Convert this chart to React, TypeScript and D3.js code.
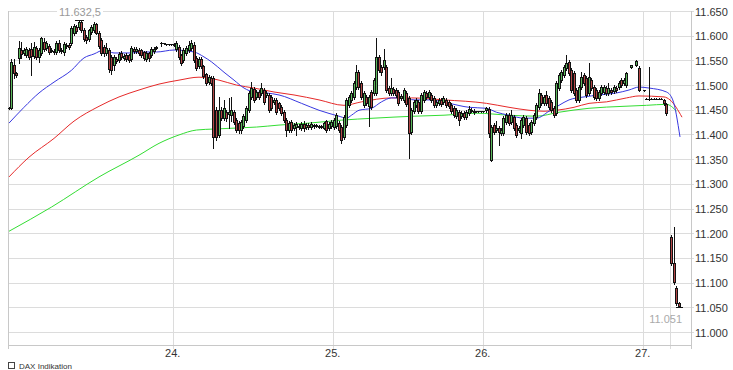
import * as d3 from "d3";

// open, high, low, close (null = no trade in that slot)
type Candle = [number, number, number, number] | null;

const day23: Candle[] = [
  [11453, 11455, 11451, 11453], [11453, 11553, 11451, 11547], [11541, 11553, 11514, 11524], [11524, 11526, 11516, 11520],
  [11555, 11589, 11545, 11575], [11571, 11587, 11555, 11563], [11565, 11575, 11561, 11571], [11561, 11577, 11557, 11573],
  [11571, 11575, 11553, 11557], [11573, 11585, 11520, 11559], [11559, 11587, 11555, 11577], [11575, 11579, 11553, 11557],
  [11557, 11575, 11547, 11571], [11565, 11597, 11561, 11595], [11587, 11595, 11569, 11573], [11575, 11589, 11571, 11585],
  [11579, 11583, 11563, 11567], [11571, 11575, 11567, 11569], [11569, 11573, 11563, 11567], [11567, 11589, 11563, 11585],
  [11585, 11591, 11567, 11571], [11571, 11575, 11565, 11569], [11567, 11587, 11561, 11583], [11579, 11585, 11575, 11581],
  [11581, 11585, 11573, 11577], [11585, 11620, 11581, 11616], [11606, 11624, 11601, 11620], [11618, 11622, 11606, 11610],
  [11618, 11632.5, 11614, 11628], [11628, 11632, 11608, 11612], [11612, 11616, 11589, 11593], [11597, 11601, 11585, 11591],
  [11593, 11614, 11589, 11612], [11608, 11622, 11604, 11618], [11612, 11628, 11608, 11624], [11624, 11626, 11604, 11606],
  [11606, 11610, 11575, 11579], [11591, 11595, 11561, 11565], [11577, 11581, 11559, 11565], [11565, 11585, 11561, 11575],
  [11571, 11575, 11526, 11532], [11557, 11561, 11522, 11530], [11541, 11561, 11530, 11557], [11553, 11557, 11545, 11549],
  [11551, 11567, 11547, 11563], [11565, 11569, 11553, 11557], [11555, 11563, 11551, 11559], [11561, 11565, 11549, 11553],
  [11561, 11563, 11547, 11551], [11553, 11579, 11549, 11575], [11573, 11577, 11565, 11569], [11569, 11577, 11565, 11573],
  [11571, 11575, 11561, 11565], [11571, 11573, 11557, 11561], [11567, 11569, 11551, 11555], [11553, 11569, 11549, 11565],
  [11565, 11567, 11549, 11555], [11561, 11577, 11557, 11573], [11569, 11577, 11565, 11573], [11575, 11579, 11573, 11577],
  null, [11585, 11588, 11579, 11585], [11585, 11586, 11584, 11585], [11583, 11584, 11582, 11583],
  [11583, 11584, 11582, 11583], [11583, 11584, 11582, 11583],
];

const day24: Candle[] = [
  [11581, 11585, 11579, 11583], [11573, 11589, 11569, 11585], [11577, 11581, 11553, 11557], [11561, 11563, 11541, 11545],
  [11551, 11575, 11547, 11571], [11565, 11579, 11561, 11575], [11571, 11589, 11567, 11581], [11575, 11591, 11571, 11585],
  [11581, 11587, 11547, 11551], [11555, 11559, 11530, 11534], [11538, 11557, 11534, 11553], [11553, 11557, 11534, 11538],
  [11538, 11541, 11514, 11518], [11522, 11524, 11500, 11504], [11506, 11520, 11502, 11516], [11514, 11518, 11500, 11504],
  [11514, 11518, 11373, 11395], [11449, 11455, 11389, 11395], [11399, 11475, 11395, 11449], [11449, 11455, 11429, 11433],
  [11433, 11470, 11429, 11453], [11445, 11449, 11427, 11433], [11441, 11473, 11413, 11445], [11439, 11475, 11427, 11449],
  [11445, 11449, 11421, 11425], [11429, 11433, 11405, 11409], [11423, 11427, 11403, 11409], [11409, 11429, 11403, 11425],
  [11417, 11441, 11413, 11437], [11429, 11457, 11425, 11453], [11449, 11488, 11445, 11484], [11476, 11506, 11472, 11494],
  [11492, 11496, 11466, 11470], [11476, 11490, 11472, 11486], [11486, 11490, 11472, 11476], [11484, 11504, 11480, 11494],
  [11490, 11494, 11461, 11466], [11480, 11488, 11476, 11484], [11480, 11484, 11445, 11449], [11476, 11480, 11449, 11453],
  [11466, 11474, 11461, 11470], [11470, 11474, 11441, 11445], [11463, 11466, 11449, 11453], [11455, 11459, 11439, 11443],
  [11445, 11449, 11425, 11429], [11429, 11433, 11397, 11409], [11409, 11427, 11405, 11423], [11425, 11429, 11405, 11409],
  [11413, 11423, 11409, 11419], [11415, 11425, 11399, 11421], [11417, 11421, 11411, 11415], [11413, 11425, 11409, 11421],
  [11421, 11427, 11407, 11413], [11415, 11423, 11411, 11419], [11419, 11423, 11411, 11415], [11415, 11425, 11411, 11421],
  [11419, 11421, 11413, 11417], [11417, 11421, 11415, 11419], [11417, 11419, 11413, 11415], [11415, 11419, 11413, 11417],
  [11413, 11425, 11411, 11423], [11427, 11429, 11405, 11409], [11413, 11425, 11409, 11421], [11417, 11429, 11413, 11425],
];

const day25: Candle[] = [
  [11415, 11433, 11411, 11429], [11417, 11443, 11413, 11439], [11423, 11427, 11405, 11409], [11415, 11419, 11383, 11389],
  [11395, 11439, 11391, 11435], [11419, 11474, 11415, 11470], [11459, 11480, 11455, 11476], [11470, 11488, 11466, 11484],
  [11476, 11508, 11472, 11504], [11496, 11541, 11492, 11526], [11526, 11530, 11492, 11496], [11504, 11508, 11472, 11476],
  [11459, 11488, 11455, 11484], [11476, 11480, 11459, 11463], [11457, 11480, 11417, 11476], [11486, 11490, 11451, 11455],
  [11484, 11514, 11480, 11510], [11484, 11595, 11480, 11557], [11557, 11561, 11526, 11530], [11536, 11540, 11520, 11526],
  [11536, 11573, 11532, 11551], [11536, 11541, 11486, 11490], [11494, 11498, 11480, 11484], [11484, 11514, 11480, 11494],
  [11492, 11496, 11480, 11484], [11490, 11494, 11476, 11480], [11486, 11490, 11459, 11463], [11474, 11482, 11470, 11478],
  [11470, 11494, 11466, 11490], [11484, 11488, 11457, 11461], [11474, 11478, 11353, 11403], [11405, 11453, 11401, 11449],
  [11447, 11470, 11443, 11466], [11459, 11474, 11455, 11470], [11466, 11470, 11443, 11447], [11447, 11484, 11443, 11480],
  [11470, 11490, 11466, 11486], [11484, 11488, 11472, 11476], [11476, 11490, 11472, 11486], [11480, 11484, 11466, 11470],
  [11474, 11478, 11455, 11459], [11459, 11470, 11455, 11466], [11463, 11474, 11459, 11470], [11470, 11474, 11457, 11461],
  [11466, 11478, 11461, 11474], [11470, 11474, 11455, 11459], [11466, 11470, 11453, 11457], [11459, 11463, 11443, 11447],
  [11453, 11457, 11435, 11439], [11437, 11453, 11433, 11449], [11445, 11449, 11419, 11429], [11437, 11447, 11433, 11443],
  [11443, 11447, 11431, 11435], [11435, 11449, 11431, 11445], [11443, 11457, 11439, 11451], [11449, 11453, 11445, 11447],
  [11445, 11451, 11441, 11447], [11447, 11448, 11446, 11447], [11447, 11448, 11446, 11447], [11447, 11448, 11446, 11447],
];

const day26: Candle[] = [
  [11447, 11448, 11446, 11447], [11449, 11455, 11445, 11453], [11451, 11455, 11395, 11403], [11348, 11419, 11346, 11415],
  [11419, 11423, 11401, 11405], [11409, 11427, 11405, 11413], [11413, 11417, 11378, 11405], [11403, 11413, 11399, 11409],
  [11403, 11437, 11399, 11433], [11425, 11443, 11421, 11439], [11439, 11443, 11419, 11423], [11425, 11449, 11421, 11439],
  [11435, 11439, 11409, 11413], [11419, 11423, 11395, 11399], [11409, 11417, 11405, 11413], [11403, 11433, 11393, 11429],
  [11419, 11439, 11415, 11435], [11433, 11437, 11401, 11405], [11419, 11423, 11399, 11403], [11405, 11429, 11401, 11425],
  [11423, 11443, 11419, 11439], [11435, 11463, 11431, 11459], [11455, 11492, 11451, 11484], [11480, 11484, 11459, 11463],
  [11463, 11480, 11459, 11476], [11480, 11488, 11459, 11463], [11474, 11478, 11451, 11455], [11466, 11470, 11445, 11449],
  [11453, 11457, 11435, 11439], [11443, 11508, 11439, 11504], [11494, 11524, 11490, 11520], [11510, 11530, 11506, 11526],
  [11520, 11541, 11516, 11536], [11534, 11561, 11530, 11545], [11547, 11551, 11520, 11524], [11530, 11534, 11486, 11490],
  [11524, 11528, 11480, 11484], [11490, 11494, 11466, 11470], [11470, 11500, 11466, 11496], [11496, 11526, 11492, 11516],
  [11520, 11524, 11500, 11504], [11514, 11518, 11476, 11480], [11484, 11544, 11480, 11516], [11510, 11514, 11490, 11494],
  [11496, 11500, 11472, 11476], [11490, 11494, 11470, 11474], [11474, 11490, 11470, 11486], [11484, 11500, 11480, 11496],
  [11486, 11500, 11482, 11496], [11494, 11498, 11480, 11484], [11484, 11504, 11480, 11494], [11490, 11494, 11482, 11486],
  [11488, 11500, 11484, 11496], [11494, 11498, 11486, 11490], [11496, 11508, 11492, 11504], [11510, 11514, 11496, 11500],
  [11504, 11514, 11500, 11510], [11500, 11526, 11496, 11524], null, [11536, 11541, 11534, 11540],
  null, [11541, 11551, 11539, 11549], [11534, 11538, 11488, 11490], null,
];

const day27: Candle[] = [
  [11490, 11491, 11489, 11490], [11472, 11473, 11471, 11472], [11472, 11536, 11470, 11472], [11472, 11473, 11471, 11472],
  [11472, 11473, 11471, 11472], [11472, 11473, 11471, 11472], [11472, 11473, 11471, 11472], [11472, 11473, 11471, 11472],
  [11470, 11472, 11459, 11463], [11461, 11463, 11439, 11443], null, [11192, 11196, 11136, 11139],
  [11139, 11212, 11097, 11101], [11090, 11093, 11055, 11058], [11058, 11060, 11051, 11053],
];

const dayLabels = ["23.", "24.", "25.", "26.", "27."];
const dayStarts = [0, 66, 130, 190, 254];
const extraGridSlots = [264.5];
const priceTicks = d3.range(11000, 11651, 50);

// moving averages: [slot, value]
const maShort: [number, number][] = [
  [0, 11423], [6, 11455], [12, 11484], [18, 11506], [25, 11530], [30, 11555], [34, 11563], [38, 11571],
  [42, 11565], [49, 11565], [54, 11567], [59, 11567], [66, 11571], [74, 11567], [78, 11557], [81, 11547],
  [86, 11526], [90, 11510], [94, 11494], [98, 11486], [103, 11484], [108, 11480], [117, 11463], [124, 11449],
  [132, 11437], [135, 11433], [137, 11439], [140, 11449], [145, 11453], [149, 11466], [153, 11474], [158, 11474],
  [162, 11470], [168, 11470], [176, 11463], [184, 11455], [191, 11453], [195, 11445], [200, 11439], [206, 11433],
  [211, 11433], [216, 11447], [220, 11459], [224, 11470], [230, 11476], [236, 11480], [243, 11484], [248, 11490],
  [252, 11496], [256, 11494], [263, 11486], [265.5, 11470], [268.4, 11395],
];
const maMid: [number, number][] = [
  [0, 11314], [8, 11354], [18, 11392], [26, 11427], [36, 11457], [44, 11476], [52, 11490], [60, 11502],
  [68, 11510], [76, 11516], [84, 11510], [91, 11500], [98, 11494], [106, 11486], [114, 11480], [124, 11470],
  [134, 11459], [141, 11466], [153, 11474], [161, 11474], [174, 11470], [191, 11463], [200, 11455], [208, 11449],
  [214, 11447], [219, 11449], [226, 11455], [232, 11463], [239, 11466], [247, 11474], [252, 11478], [262, 11476],
  [264.4, 11470], [269.2, 11435],
];
const maLong: [number, number][] = [
  [0, 11204], [17, 11253], [36, 11314], [52, 11358], [60, 11382], [68, 11399], [75, 11409], [82, 11411],
  [91, 11413], [99, 11415], [108, 11419], [120, 11423], [133, 11429], [146, 11433], [162, 11437], [174, 11439],
  [187, 11443], [200, 11439], [211, 11437], [220, 11445], [232, 11453], [246, 11457], [255, 11459], [263, 11461],
  [267, 11447],
];

const legendText = "DAX Indikation";

const de = d3.formatLocale({ decimal: ",", thousands: ".", grouping: [3], currency: ["", " €"] });
const fmtTick = de.format(",.0f");
const fmtHigh = de.format(",.1f");

export default function App() {
  const width = 733;
  const height = 370;
  const left = 8;
  const right = 691;
  const top = 11;
  const bottom = 345;

  const x = d3.scaleLinear().domain([0, 272]).range([9, 689]);
  const y = d3.scaleLinear().domain([11000, 11650]).range([332, 11]);

  const days = [day23, day24, day25, day26, day27];
  const candles: { slot: number; o: number; h: number; l: number; c: number }[] = [];
  days.forEach((arr, di) => {
    arr.forEach((d, i) => {
      if (d) candles.push({ slot: dayStarts[di] + i, o: d[0], h: d[1], l: d[2], c: d[3] });
    });
  });

  const hi = candles.reduce((a, b) => (b.h > a.h ? b : a));
  const lo = candles.reduce((a, b) => (b.l < a.l ? b : a));

  const line = d3
    .line<[number, number]>()
    .x((d) => x(d[0]))
    .y((d) => y(d[1]))
    .curve(d3.curveMonotoneX);

  const px = (v: number) => Math.round(v) + 0.5;
  const gridColor = "#dcdcdc";
  const font = "'Liberation Sans', Arial, sans-serif";

  const vGrid = [...dayStarts.slice(1).map((s) => s - 0.5), ...extraGridSlots];

  const hiX = Math.floor(x(hi.slot));
  const loX = Math.floor(x(lo.slot));

  return (
    <div style={{ position: "fixed", left: 0, top: 0 }}>
      <svg width={width} height={height} style={{ display: "block", fontFamily: font }}>
        <rect width={width} height={height} fill="#fff" />

        {/* grid */}
        <g shapeRendering="crispEdges">
          {priceTicks.map((t) => (
            <line key={t} x1={left} x2={right + 3} y1={px(y(t))} y2={px(y(t))} stroke={gridColor} />
          ))}
          {vGrid.map((s) => (
            <line key={s} x1={px(x(s))} x2={px(x(s))} y1={top} y2={bottom + 4} stroke={gridColor} />
          ))}
          <line x1={left + 0.5} x2={left + 0.5} y1={top} y2={bottom + 4} stroke="#c8c8c8" />
          <line x1={right + 0.5} x2={right + 0.5} y1={top} y2={bottom + 4} stroke="#c8c8c8" />
          <line x1={left} x2={right + 1} y1={bottom + 0.5} y2={bottom + 0.5} stroke="#c8c8c8" />
        </g>

        {/* axis labels */}
        {priceTicks.map((t) => (
          <text key={t} x={695} y={y(t) + 4.5} fontSize={11} fill="#333">
            {fmtTick(t)}
          </text>
        ))}
        {dayStarts.slice(1).map((s, i) => (
          <text key={s} x={x(s - 0.5)} y={357} fontSize={11} fill="#333" textAnchor="middle">
            {dayLabels[i + 1]}
          </text>
        ))}

        {/* moving averages */}
        <path d={line(maLong) ?? ""} fill="none" stroke="#33dd33" strokeWidth={1} />
        <path d={line(maMid) ?? ""} fill="none" stroke="#e62a2a" strokeWidth={1} />
        <path d={line(maShort) ?? ""} fill="none" stroke="#3838e0" strokeWidth={1} />

        {/* candles */}
        <g shapeRendering="crispEdges">
          {candles.map((d) => {
            const cx = Math.floor(x(d.slot));
            const yt = Math.round(y(Math.max(d.o, d.c)));
            const yb = Math.round(y(Math.min(d.o, d.c)));
            const up = d.c >= d.o;
            return (
              <g key={d.slot}>
                <line x1={cx + 0.5} x2={cx + 0.5} y1={Math.round(y(d.h))} y2={Math.round(y(d.l)) + 1} stroke="#111" />
                {yb - yt >= 1 ? (
                  <rect
                    x={cx - 0.5}
                    y={yt + 0.5}
                    width={2}
                    height={yb - yt}
                    fill={up ? "#5cb85c" : "#b24646"}
                    stroke="#111"
                  />
                ) : (
                  <line x1={cx - 1} x2={cx + 2} y1={yt + 0.5} y2={yt + 0.5} stroke="#111" />
                )}
              </g>
            );
          })}
        </g>

        {/* high / low markers */}
        <g shapeRendering="crispEdges">
          <line x1={hiX - 4} x2={hiX + 5} y1={px(y(hi.h))} y2={px(y(hi.h))} stroke="#111" />
          <line x1={loX - 3} x2={loX + 4} y1={px(y(lo.l))} y2={px(y(lo.l))} stroke="#111" />
        </g>
        <rect x={hiX - 22} y={y(hi.h) - 14} width={46} height={12} fill="#fff" />
        <text x={hiX + 1} y={y(hi.h) - 4} fontSize={11} fill="#999" textAnchor="middle">
          {fmtHigh(hi.h)}
        </text>
        <text x={loX + 3} y={y(lo.l) + 16} fontSize={11} fill="#aaa" textAnchor="end">
          {fmtTick(lo.l)}
        </text>

        {/* legend at the bottom edge */}
        <rect x={8.5} y={362.5} width={6} height={6} fill="#fff" stroke="#444" />
        <text x={19} y={369} fontSize={8} fill="#333">
          {legendText}
        </text>
      </svg>
    </div>
  );
}
